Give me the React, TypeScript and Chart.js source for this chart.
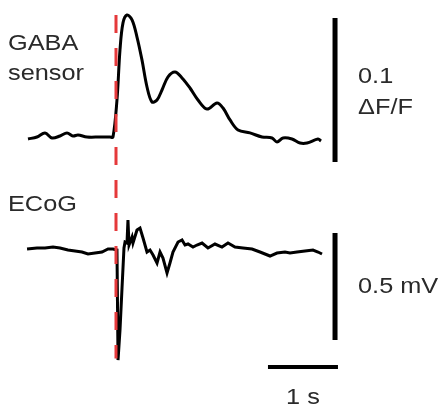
import React, { useEffect, useRef } from "react";
import { Chart, registerables } from "chart.js";

Chart.register(...registerables);

// Time (s, 0 = stimulus onset) and GABA sensor ΔF/F
const gabaTime = [-1.257, -1.129, -1.014, -0.914, -0.8, -0.7, -0.614, -0.543, -0.414, -0.229, -0.086, -0.043, 0.014, 0.057, 0.1, 0.157, 0.229, 0.3, 0.371, 0.443, 0.514, 0.586, 0.657, 0.743, 0.843, 0.943, 1.057, 1.171, 1.3, 1.443, 1.529, 1.629, 1.743, 1.914, 2.086, 2.229, 2.3, 2.386, 2.514, 2.629, 2.729, 2.886, 2.929];
const gabaDFF = [-0.0014, 0, 0.0028, -0.0007, 0.0007, 0.0028, 0.0007, 0.0014, 0, 0, 0, 0, 0.0257, 0.0604, 0.0792, 0.0847, 0.0813, 0.0694, 0.0535, 0.0347, 0.0243, 0.0257, 0.0326, 0.0417, 0.0451, 0.041, 0.034, 0.0257, 0.0194, 0.0236, 0.0201, 0.0118, 0.0049, 0.0028, 0, -0.0007, -0.0035, -0.0007, -0.0014, -0.0042, -0.0042, -0.0014, -0.0028];

// Time (s) and ECoG (mV)
const ecogTime = [-1.271, -1.129, -1.014, -0.9, -0.8, -0.686, -0.586, -0.486, -0.4, -0.3, -0.2, -0.114, -0.043, 0.014, 0.029, 0.057, 0.086, 0.114, 0.129, 0.157, 0.171, 0.186, 0.229, 0.243, 0.3, 0.343, 0.386, 0.443, 0.486, 0.529, 0.586, 0.629, 0.671, 0.729, 0.771, 0.814, 0.886, 0.943, 0.986, 1.029, 1.1, 1.157, 1.229, 1.314, 1.414, 1.514, 1.6, 1.7, 1.814, 1.943, 2.057, 2.2, 2.3, 2.414, 2.486, 2.586, 2.7, 2.814, 2.886, 2.943];
const ecogMV = [0, 0.0047, 0.0047, 0.0093, 0.0047, -0.0047, -0.0093, -0.014, -0.0234, -0.0187, -0.014, 0, 0, -0.0047, -0.519, -0.379, -0.182, 0.0047, 0.0327, 0.028, 0.1355, 0.0187, 0.0561, 0.028, 0.0888, 0.0981, 0.0514, -0.014, -0.0047, -0.028, -0.0654, -0.014, -0.0421, -0.1121, -0.0654, -0.014, 0.0327, 0.0421, 0.0187, 0.0234, 0.0093, 0.0187, 0.028, 0.0047, 0.0234, 0.0093, 0.028, 0.0093, 0.0047, 0, -0.014, -0.0327, -0.0187, -0.014, -0.0187, -0.014, -0.0093, -0.0047, -0.014, -0.0234];

// Scale bar sizes
const gabaScaleValue = 0.1; // ΔF/F
const ecogScaleValue = 0.5; // mV
const timeScaleValue = 1; // s

const gabaLabel = ["GABA", "sensor"];
const ecogLabel = ["ECoG"];
const gabaScaleLabel = ["0.1", "ΔF/F"];
const ecogScaleLabel = ["0.5 mV"];
const timeScaleLabel = "1 s";

export default function App() {
  const ref = useRef<HTMLCanvasElement | null>(null);

  useEffect(() => {
    const canvas = ref.current;
    if (!canvas) return;

    const barX = 3.129;
    const gabaBarTop = 0.0826;
    const ecogBarTop = 0.0748;
    const timeBarStart = 2.171;
    const timeBarY = -0.551;

    const pts = (xs: number[], ys: number[]) => xs.map((x, i) => ({ x, y: ys[i] }));

    const textPlugin = {
      id: "texts",
      afterDatasetsDraw(chart: any) {
        const ctx = chart.ctx as CanvasRenderingContext2D;
        const xs = chart.scales.x;
        ctx.save();
        ctx.fillStyle = "#2a2a2a";
        ctx.font = '22px "Liberation Sans", Arial, sans-serif';
        ctx.textBaseline = "alphabetic";
        const draw = (t: string, x: number, y: number, align: "left" | "center" = "left") => {
          ctx.save();
          ctx.translate(x, y);
          ctx.scale(1.15, 1);
          ctx.textAlign = align;
          ctx.fillText(t, 0, 0);
          ctx.restore();
        };
        const labelX = 8;
        draw(gabaLabel[0], labelX, 50);
        draw(gabaLabel[1], labelX, 80);
        draw(ecogLabel[0], labelX, 211);
        const sx = xs.getPixelForValue(barX) + 23;
        draw(gabaScaleLabel[0], sx, 83);
        draw(gabaScaleLabel[1], sx, 114);
        draw(ecogScaleLabel[0], sx, 293);
        const tx = xs.getPixelForValue(timeBarStart + timeScaleValue / 2);
        draw(timeScaleLabel, tx, 404, "center");
        ctx.restore();
      },
    };

    const chart = new Chart(canvas, {
      type: "line",
      data: {
        datasets: [
          {
            data: [{ x: 0, y: 1.093 }, { x: 0, y: -0.512 }],
            yAxisID: "yE",
            borderColor: "#e5393b",
            borderWidth: 3,
            borderDash: [18, 15],
            borderCapStyle: "butt",
            order: 0,
          },
          {
            data: pts(gabaTime, gabaDFF),
            yAxisID: "yG",
            borderColor: "#000",
            borderWidth: 3,
            tension: 0.35,
            order: 1,
          },
          {
            data: pts(ecogTime, ecogMV),
            yAxisID: "yE",
            borderColor: "#000",
            borderWidth: 3,
            tension: 0,
            order: 1,
          },
          {
            data: [{ x: barX, y: gabaBarTop }, { x: barX, y: gabaBarTop - gabaScaleValue }],
            yAxisID: "yG",
            borderColor: "#000",
            borderWidth: 5,
            borderCapStyle: "butt",
            order: 1,
          },
          {
            data: [{ x: barX, y: ecogBarTop }, { x: barX, y: ecogBarTop - ecogScaleValue }],
            yAxisID: "yE",
            borderColor: "#000",
            borderWidth: 5,
            borderCapStyle: "butt",
            order: 1,
          },
          {
            data: [{ x: timeBarStart, y: timeBarY }, { x: timeBarStart + timeScaleValue, y: timeBarY }],
            yAxisID: "yE",
            borderColor: "#000",
            borderWidth: 4,
            borderCapStyle: "butt",
            order: 1,
          },
        ],
      },
      options: {
        animation: false,
        responsive: false,
        devicePixelRatio: 1,
        layout: { padding: 0 },
        elements: { point: { radius: 0 }, line: { fill: false } },
        plugins: { legend: { display: false }, tooltip: { enabled: false }, title: { display: false } },
        scales: {
          x: { type: "linear", min: -116 / 70, max: 326 / 70, display: false },
          yG: { type: "linear", min: -0.1868, max: 0.0951, display: false },
          yE: { type: "linear", min: -0.7336, max: 1.1636, display: false },
        },
      },
      plugins: [textPlugin],
    });
    return () => chart.destroy();
  }, []);

  return (
    <div style={{ position: "fixed", left: 0, top: 0, width: 442, height: 406, background: "#fff" }}>
      <canvas ref={ref} width={442} height={406} style={{ display: "block" }} />
    </div>
  );
}
